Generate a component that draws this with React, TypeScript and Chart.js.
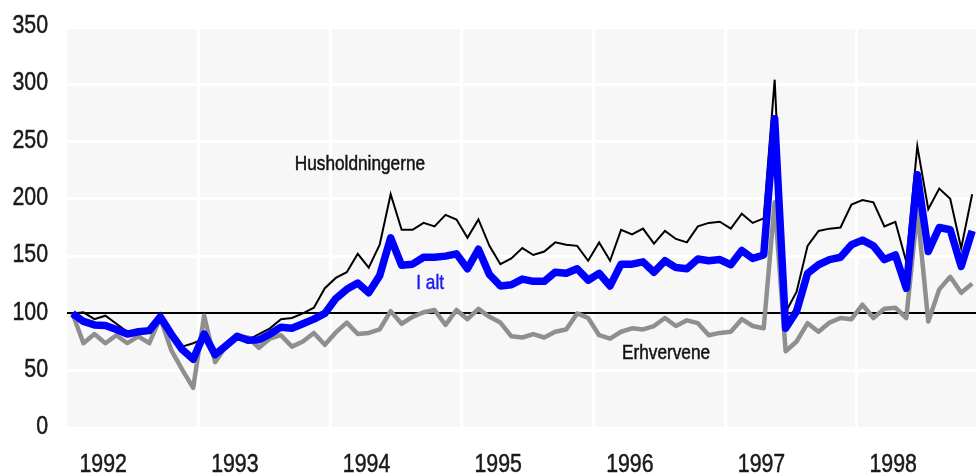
import React, { useEffect, useRef } from 'react';
import { Chart, registerables } from 'chart.js';

Chart.register(...registerables);

// Monthly index, Jan 1992 = 100 (i = 0 .. 82, Jan 1992 .. Nov 1998)
const years = ['1992', '1993', '1994', '1995', '1996', '1997', '1998'];

const iAlt = [
  100, 93, 90, 89.5, 86, 82, 84, 85, 97, 82, 68.5, 60,
  82, 64, 72, 80, 76.5, 77, 82, 88, 87, 91, 95, 100,
  113, 121, 126.5, 118, 133, 166, 142, 143, 149, 149, 150, 152,
  139, 156, 134, 124, 125, 130, 128, 128, 136, 135, 139, 129,
  135, 124, 143, 143, 145, 136, 146, 140, 139, 147.5, 146, 147,
  142.5, 155, 148, 151, 270, 87, 102, 135, 142.5, 147, 149, 160,
  164, 159, 147, 151, 122, 221, 154, 175, 173, 141, 172,
];

const husholdningerne = [
  100, 101, 95, 98, 91, 84, 85, 86, 100, 84, 71, 74,
  78, 65, 73, 80, 77, 82, 87, 95, 96, 100, 105, 122,
  131, 136, 152, 140, 160, 204, 173, 173, 179, 176, 186, 182,
  166, 182, 159, 143, 148, 157, 151, 154, 162, 160, 159, 146,
  162, 146, 173, 169, 174, 161, 172, 165, 162, 176, 179, 180,
  174, 187, 179, 183, 304, 101, 119, 159, 172, 174, 175, 195,
  199, 197, 176, 180, 145, 246, 191, 209, 200, 157, 204,
];

const erhvervene = [
  100, 74, 82, 74, 81, 74, 80, 74, 96, 68, 51, 35,
  98, 57.5, 71.5, 80, 79, 70, 78, 81, 71, 75.5, 83, 72.6,
  83.4, 92, 82, 83, 86, 102, 91, 97, 101, 103, 90, 103,
  95, 104, 97, 92, 80, 79, 82, 79, 84, 86, 100, 96,
  81, 78, 84, 87, 86, 89, 96, 89, 94, 91.5, 81, 83,
  84, 95, 89, 87, 197, 67, 75.5, 91.5, 84, 92, 96, 95,
  107.6, 96, 104, 105, 96, 190, 93, 121, 132, 118, 126,
];

const yTicks = [0, 50, 100, 150, 200, 250, 300, 350];
const baseValue = 100;

const seriesNames = ['I alt', 'Husholdningerne', 'Erhvervene'];

// label anchors in data coordinates (month index, value)
const annotations = [
  { text: 'Husholdningerne', x: 26.2, y: 230, color: '#111111' },
  { text: 'I alt', x: 32.6, y: 126.7, color: '#1c1cf0' },
  { text: 'Erhvervene', x: 54.1, y: 65.6, color: '#111111' },
];

// Arial-Narrow look: Liberation Sans compressed horizontally
const FONT = "'Liberation Sans', Arial, sans-serif";
const NARROW = 0.82;

const toPoints = (arr: number[]) => arr.map((v, i) => ({ x: i, y: v }));

const drawNarrow = (
  ctx: CanvasRenderingContext2D,
  text: string,
  x: number,
  y: number,
  align: CanvasTextAlign,
  baseline: CanvasTextBaseline,
) => {
  ctx.save();
  ctx.translate(x, y);
  ctx.scale(NARROW, 1);
  ctx.textAlign = align;
  ctx.textBaseline = baseline;
  ctx.strokeStyle = ctx.fillStyle as string;
  ctx.lineWidth = 0.5;
  ctx.fillText(text, 0, 0);
  ctx.strokeText(text, 0, 0);
  ctx.restore();
};

const bgPlugin = {
  id: 'plotBg',
  beforeDraw(chart: any) {
    const { ctx, chartArea: a } = chart;
    ctx.save();
    ctx.fillStyle = '#f7f7f7';
    ctx.fillRect(a.left, a.top, a.right - a.left, a.bottom - a.top);
    ctx.restore();
  },
};

const textPlugin = {
  id: 'narrowText',
  afterDraw(chart: any) {
    const { ctx, chartArea } = chart;
    const xs = chart.scales.x;
    const ys = chart.scales.y;
    ctx.save();
    // y tick labels
    ctx.fillStyle = '#1a1a1a';
    ctx.font = `26px ${FONT}`;
    ys.ticks.forEach((t: any) => {
      drawNarrow(ctx, String(t.value), chartArea.left - 19, ys.getPixelForValue(t.value) - 1, 'right', 'middle');
    });
    // x tick labels (years)
    xs.ticks.forEach((t: any) => {
      const lbl = xs.options.ticks.callback(t.value);
      if (lbl) drawNarrow(ctx, lbl, xs.getPixelForValue(t.value), chartArea.bottom + 44, 'center', 'alphabetic');
    });
    // series labels
    ctx.font = `21px ${FONT}`;
    annotations.forEach((a) => {
      ctx.fillStyle = a.color;
      drawNarrow(ctx, a.text, xs.getPixelForValue(a.x), ys.getPixelForValue(a.y), 'center', 'middle');
    });
    ctx.restore();
  },
};

export default function App() {
  const ref = useRef<HTMLCanvasElement | null>(null);

  useEffect(() => {
    if (!ref.current) return;
    const boundaries = years.slice(1).map((_, k) => 12 * (k + 1) - 0.5);
    const labelPos = years.map((_, k) => 12 * k + 2.8);
    const chart = new Chart(ref.current, {
      type: 'line',
      data: {
        datasets: [
          {
            label: seriesNames[0],
            data: toPoints(iAlt),
            borderColor: '#0000ff',
            borderWidth: 7.5,
            pointRadius: 0,
            tension: 0,
            borderJoinStyle: 'round',
          },
          {
            label: seriesNames[1],
            data: toPoints(husholdningerne),
            borderColor: '#000000',
            borderWidth: 2,
            pointRadius: 0,
            tension: 0,
          },
          {
            label: seriesNames[2],
            data: toPoints(erhvervene),
            borderColor: '#8f8f8f',
            borderWidth: 4.5,
            pointRadius: 0,
            tension: 0,
            borderJoinStyle: 'round',
          },
        ],
      },
      options: {
        responsive: false,
        animation: false,
        events: [],
        layout: { padding: { left: 0, right: 0, top: 27, bottom: 0 } },
        plugins: {
          legend: { display: false },
          tooltip: { enabled: false },
        },
        scales: {
          x: {
            type: 'linear',
            min: -0.5,
            max: 82.35,
            border: { display: false },
            afterBuildTicks: (scale: any) => {
              scale.ticks = [
                ...boundaries.map((v) => ({ value: v })),
                ...labelPos.map((v) => ({ value: v })),
              ].sort((a, b) => a.value - b.value);
            },
            afterFit: (scale: any) => {
              scale.height = 46;
            },
            grid: {
              drawTicks: false,
              color: (c: any) =>
                c.tick && boundaries.includes(c.tick.value) ? '#ffffff' : 'rgba(0,0,0,0)',
              lineWidth: 3,
            },
            ticks: {
              display: false,
              autoSkip: false,
              maxRotation: 0,
              callback: (v: any) => {
                const k = labelPos.findIndex((p) => Math.abs(p - v) < 1e-6);
                return k >= 0 ? years[k] : '';
              },
            },
          },
          y: {
            type: 'linear',
            min: 0,
            max: 350,
            border: { display: false },
            afterBuildTicks: (scale: any) => {
              scale.ticks = yTicks.map((v) => ({ value: v }));
            },
            afterFit: (scale: any) => {
              scale.width = 67;
            },
            grid: {
              drawTicks: false,
              color: (c: any) => (c.tick && c.tick.value === baseValue ? '#000000' : '#ffffff'),
              lineWidth: (c: any) => (c.tick && c.tick.value === baseValue ? 2 : 3),
            },
            ticks: { display: false },
          },
        },
      },
      plugins: [bgPlugin, textPlugin],
    } as any);
    return () => chart.destroy();
  }, []);

  return (
    <div style={{ position: 'absolute', left: 0, top: 0, width: 976, height: 474, background: '#ffffff' }}>
      <canvas ref={ref} width={976} height={474} style={{ display: 'block' }} />
    </div>
  );
}
